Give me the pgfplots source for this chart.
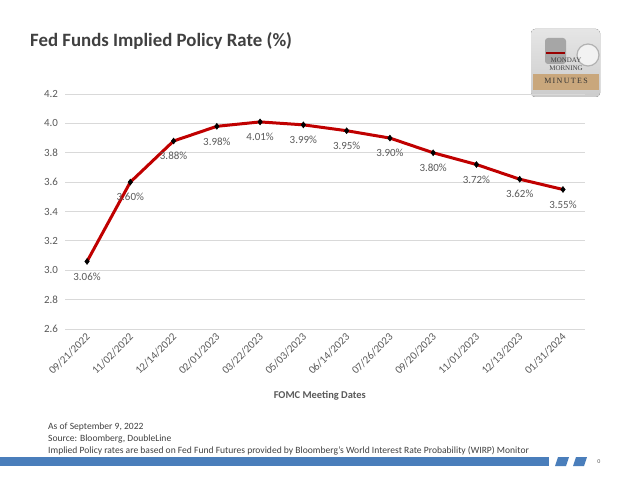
\documentclass[border=0pt]{standalone}
\usepackage{fontspec}
\setmainfont{Carlito}
\newfontfamily\logofont{Liberation Serif}
\usepackage{pgfplots}
\pgfplotsset{compat=1.18}

\definecolor{lineRed}{HTML}{C00000}
\definecolor{gridGray}{HTML}{D9D9D9}
\definecolor{labelGray}{HTML}{595959}
\definecolor{textGray}{HTML}{404040}
\definecolor{barBlue}{HTML}{4A7EBB}
\definecolor{logoTan}{HTML}{C9A77C}

\begin{document}
\begin{tikzpicture}[x=1bp,y=1bp]
\path[use as bounding box] (0,0) rectangle (630,-486);

% title
\node[anchor=base west, inner sep=0, text=textGray,
      font=\fontsize{18.9}{20}\selectfont\bfseries] at (30,-47)
      {Fed Funds Implied Policy Rate (\%)};

% logo
\fill[rounded corners=4bp, top color=gray!20, bottom color=gray!40] (531,-29) rectangle (600,-97);
\fill[rounded corners=3bp, gray!70] (545,-38) rectangle (566,-64);
\fill[red!60!black] (546,-52) rectangle (565,-54);
\draw[gray!60, line width=1.2bp, fill=white!90!gray] (588,-55) circle (11);
\fill[logoTan] (533,-74) rectangle (599,-90);
\node[font=\logofont\fontsize{7}{7}\selectfont, text=black!75] at (566,-60) {MONDAY};
\node[font=\logofont\fontsize{7}{7}\selectfont, text=black!75] at (566,-68) {MORNING};
\node[font=\logofont\fontsize{8}{8}\selectfont, text=black!80] at (566,-80.5) {M\,I\,N\,U\,T\,E\,S};

\begin{axis}[
    at={(65.4bp,-329bp)}, anchor=south west,
    scale only axis, width=519.2bp, height=235bp,
    xmin=-0.5, xmax=11.5, ymin=2.6, ymax=4.2,
    xtick={0,1,2,3,4,5,6,7,8,9,10,11},
    xticklabels={09/21/2022,11/02/2022,12/14/2022,02/01/2023,03/22/2023,05/03/2023,
                 06/14/2023,07/26/2023,09/20/2023,11/01/2023,12/13/2023,01/31/2024},
    ytick={2.6,2.8,3.0,3.2,3.4,3.6,3.8,4.0,4.2},
    yticklabel style={/pgf/number format/fixed, /pgf/number format/fixed zerofill,
                      /pgf/number format/precision=1, xshift=-4bp},
    /pgf/number format/assume math mode=true,
    ymajorgrids, grid style={gridGray, line width=0.8bp},
    axis line style={draw=none}, major tick length=0,
    tick label style={font=\fontsize{11}{12}\selectfont, text=labelGray},
    xticklabel style={rotate=45, anchor=east, yshift=-5bp},
    xlabel={FOMC Meeting Dates},
    xlabel style={font=\fontsize{10.5}{12}\selectfont\bfseries, text=labelGray, at={(axis description cs:0.49,0)}, anchor=center, yshift=-67bp},
    clip=false,
    nodes near coords={\pgfmathprintnumber[fixed,fixed zerofill,precision=2]{\pgfplotspointmeta}\%},
    every node near coord/.append style={anchor=center, yshift=-15bp,
        font=\fontsize{11}{12}\selectfont, text=labelGray},
]
\addplot[lineRed, line width=3bp, mark=diamond*,
         mark options={black, fill=black, line width=0.5bp, scale=1.5}] coordinates {
    (0,3.06) (1,3.60) (2,3.88) (3,3.98) (4,4.01) (5,3.99)
    (6,3.95) (7,3.90) (8,3.80) (9,3.72) (10,3.62) (11,3.55)
};
\end{axis}

% footnotes
\begin{scope}[every node/.style={anchor=base west, inner sep=0, text=textGray,
                                 font=\fontsize{9.6}{10}\selectfont}]
\node at (48,-429) {As of September 9, 2022};
\node at (48,-441) {Source: Bloomberg, DoubleLine};
\node at (48,-453) {Implied Policy rates are based on Fed Fund Futures provided by Bloomberg's World Interest Rate Probability (WIRP) Monitor};
\end{scope}

% footer bar
\fill[barBlue] (0,-457) rectangle (549,-466);
\fill[barBlue] (555,-466) -- (558,-457) -- (569,-457) -- (566,-466) -- cycle;
\fill[barBlue] (573,-466) -- (576,-457) -- (587,-457) -- (584,-466) -- cycle;
\node[font=\fontsize{6}{7}\selectfont, text=labelGray] at (599,-462) {0};
\end{tikzpicture}
\end{document}
